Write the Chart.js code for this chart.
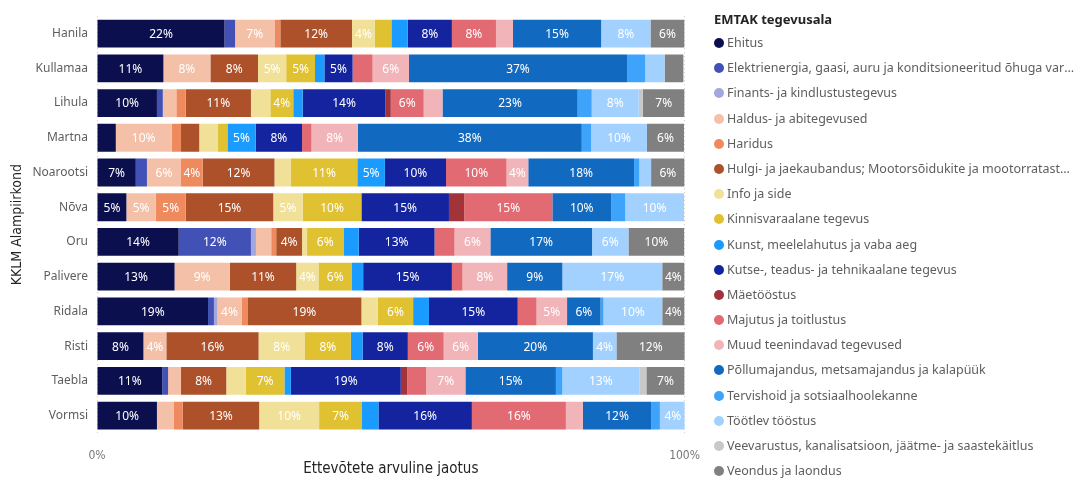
<!DOCTYPE html>
<html>
<head>
<meta charset="utf-8">
<script src="https://cdn.jsdelivr.net/npm/chart.js@4"></script>
<style>
body{margin:0;background:#fff;width:1076px;height:480px;overflow:hidden;position:relative;font-family:"Segoe UI","Noto Sans",sans-serif;}
#wrap{position:absolute;left:0;top:0;width:716px;height:480px;}
#legend{position:absolute;left:714px;top:8px;width:362px;}
#legend .ttl{font-weight:bold;font-size:13px;color:#252423;height:22px;line-height:22px;}
#legend .it{height:25.2px;line-height:25.2px;font-size:12.5px;color:#605E5C;white-space:nowrap;overflow:hidden;text-overflow:ellipsis;}
#legend .dot{display:inline-block;width:10px;height:10px;border-radius:50%;margin-right:3px;vertical-align:-1px;}
</style>
</head>
<body>
<div id="wrap"><canvas id="c"></canvas></div>
<div id="legend"></div>
<script>
// Alampiirkonnad
const regions = ["Hanila","Kullamaa","Lihula","Martna","Noarootsi","Nõva","Oru","Palivere","Ridala","Risti","Taebla","Vormsi"];

// tegevusalade nimed
const sectors = [
"Ehitus",
"Elektrienergia, gaasi, auru ja konditsioneeritud õhuga varustamine",
"Finants- ja kindlustustegevus",
"Haldus- ja abitegevused",
"Haridus",
"Hulgi- ja jaekaubandus; Mootorsõidukite ja mootorrataste remont",
"Info ja side",
"Kinnisvaraalane tegevus",
"Kunst, meelelahutus ja vaba aeg",
"Kutse-, teadus- ja tehnikaalane tegevus",
"Mäetööstus",
"Majutus ja toitlustus",
"Muud teenindavad tegevused",
"Põllumajandus, metsamajandus ja kalapüük",
"Tervishoid ja sotsiaalhoolekanne",
"Töötlev tööstus",
"Veevarustus, kanalisatsioon, jäätme- ja saastekäitlus",
"Veondus ja laondus"
];

// osakaalud % (Hanila ... Vormsi)
const ehitus      = [21.7,11.3,10.2, 3.2, 6.6, 5.0,13.9,13.2,18.9, 7.9,11.1,10.2];
const elekter     = [ 1.8, 0,   1.0, 0,   1.9, 0,  12.3, 0,   1.0, 0,   1.0, 0];
const finants     = [ 0,   0,   0,   0,   0,   0,   0.85,0,   0.6, 0,   0,   0];
const haldus      = [ 6.7, 8.0, 2.3, 9.5, 5.8, 5.0, 2.6, 9.4, 4.1, 3.9, 2.2, 2.9];
const haridus     = [ 1.0, 0,   1.6, 1.6, 3.7, 5.1, 0.85,0,   1.0, 0,   0,   1.5];
const kaubandus   = [12.2, 8.1,11.1, 3.1,12.2,14.9, 4.4,11.3,19.4,15.7, 7.7,13.0];
const info        = [ 3.9, 4.8, 3.3, 3.2, 2.8, 5.0, 0.85,3.8, 2.8, 7.9, 3.3,10.2];
const kinnisvara  = [ 2.8, 4.9, 3.9, 1.6,11.3,10.0, 6.2, 5.7, 6.0, 7.8, 6.6, 7.3];
const kunst       = [ 2.8, 1.6, 1.6, 4.8, 4.7, 0,   2.6, 1.9, 2.7, 2.0, 1.1, 2.8];
const kutse       = [ 7.5, 4.8,14.1, 7.9,10.4,14.9,12.9,15.1,15.1, 7.7,18.7,15.9];
const maetoostus  = [ 0,   0,   0.9, 0,   0,   2.6, 0,   0,   0,   0,   1.1, 0];
const majutus     = [ 7.5, 3.4, 5.6, 1.6,10.3,15.0, 3.4, 1.8, 3.2, 6.1, 3.2,16.0];
const muud        = [ 2.9, 6.2, 3.2, 7.9, 3.7, 0,   6.1, 7.6, 5.2, 5.8, 6.7, 2.9];
const pollu       = [15.0,37.1,23.0,38.1,18.0,10.0,17.3, 9.4, 5.7,19.6,15.4,11.6];
const tervis      = [ 0,   3.1, 2.4, 1.6, 0.9, 2.4, 0,   0,   0.5, 0,   1.1, 1.5];
const tootlev     = [ 8.4, 3.3, 8.0, 9.5, 2.0,10.0, 6.2,17.0,10.0, 4.0,13.1, 4.4];
const vesi        = [ 0,   0,   0.7, 0,   0,   0,   0,   0,   0,   0,   1.2, 0];
const veondus     = [ 5.8, 3.2, 7.1, 6.3, 5.7, 0,   9.5, 3.8, 3.8,11.7, 6.5, 0];

const series = [ehitus,elekter,finants,haldus,haridus,kaubandus,info,kinnisvara,kunst,kutse,maetoostus,majutus,muud,pollu,tervis,tootlev,vesi,veondus];

const colors = ["#0C0F4E","#4251B5","#A2A7DD","#F4C0A8","#EE8A5E","#AC5129","#F1E198","#E0C132","#1A9BFF","#13249E","#A2333B","#E16A73","#F1B4B9","#1169C0","#3EA3FB","#A2D1FF","#C8C8C8","#808080"];

const axisFont = '"Liberation Sans Narrow","DejaVu Sans Condensed",sans-serif';

// protsendid ribade sisse
const pctLabels = {
  id: 'pctLabels',
  afterDatasetsDraw(chart) {
    const ctx = chart.ctx;
    ctx.save();
    ctx.font = '12px "Segoe UI","Noto Sans",sans-serif';
    ctx.fillStyle = '#fff';
    ctx.textAlign = 'center';
    ctx.textBaseline = 'middle';
    chart.data.datasets.forEach((ds, i) => {
      chart.getDatasetMeta(i).data.forEach((bar, j) => {
        const v = ds.data[j];
        if (v < 3.5) return;
        ctx.fillText(Math.round(v) + '%', (bar.x + bar.base) / 2, bar.y + 1);
      });
    });
    ctx.restore();
  }
};

new Chart(document.getElementById("c"), {
  type: "bar",
  data: {
    labels: regions,
    datasets: series.map((d, i) => ({
      label: sectors[i],
      data: d,
      backgroundColor: colors[i],
      borderWidth: 0,
      barPercentage: 0.8,
      categoryPercentage: 1
    }))
  },
  options: {
    indexAxis: "y",
    responsive: true,
    maintainAspectRatio: false,
    animation: false,
    layout: { padding: { top: 14, right: 15, left: 0, bottom: 0 } },
    plugins: { legend: { display: false }, tooltip: { enabled: false } },
    scales: {
      x: {
        stacked: true,
        min: 0, max: 100,
        ticks: { stepSize: 100, callback: v => v + "%", color: "#777", padding: 16, font: { family: axisFont, size: 12 } },
        grid: { color: "#C8C8C8", drawTicks: false },
        border: { display: false, dash: [1, 3] },
        title: { display: true, text: "Ettevõtete arvuline jaotus", color: "#252423", padding: { top: 0, bottom: 2 }, font: { family: axisFont, size: 15 } },
        afterFit: s => { s.height = 47; }
      },
      y: {
        stacked: true,
        ticks: { color: "#605E5C", padding: 9, font: { family: '"Segoe UI","Noto Sans",sans-serif', size: 12 } },
        grid: { display: false, drawTicks: false },
        border: { display: false },
        title: { display: true, text: "KKLM Alampiirkond", color: "#252423", padding: { top: 9, bottom: 0 }, font: { family: axisFont, size: 14 } },
        afterFit: s => { s.width = 97; }
      }
    }
  },
  plugins: [pctLabels]
});

// legend
let html = '<div class="ttl">EMTAK tegevusala</div>';
sectors.forEach((s, i) => {
  html += '<div class="it"><span class="dot" style="background:' + colors[i] + '"></span>' + s + '</div>';
});
document.getElementById("legend").innerHTML = html;
</script>
</body>
</html>
